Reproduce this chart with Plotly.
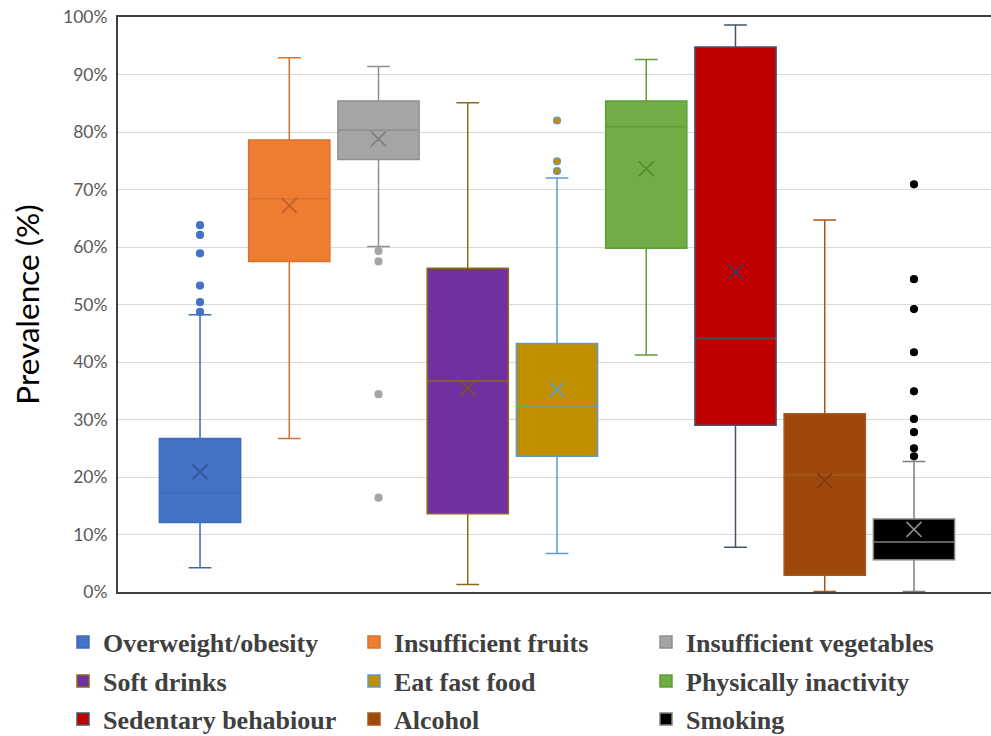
import plotly.graph_objects as go

names = ["Overweight/obesity", "Insufficient fruits", "Insufficient vegetables",
         "Soft drinks", "Eat fast food", "Physically inactivity",
         "Sedentary behabiour", "Alcohol", "Smoking"]
lowerfence = [4.2, 26.7, 60.1, 1.3, 6.7, 41.2, 7.8, 0.1, 0.1]
q1 = [12.1, 57.5, 75.2, 13.6, 23.6, 59.8, 29.0, 2.9, 5.6]
median = [17.3, 68.4, 80.3, 36.7, 32.4, 80.9, 44.1, 20.4, 8.7]
q3 = [26.7, 78.6, 85.4, 56.3, 43.2, 85.4, 94.8, 31.0, 12.7]
upperfence = [48.2, 92.9, 91.4, 85.1, 72.0, 92.6, 98.6, 64.7, 22.7]
means = [20.9, 67.2, 78.8, 35.4, 35.2, 73.6, 55.7, 19.4, 10.9]
outliers = [
    [63.8, 62.1, 58.9, 53.3, 50.4, 48.7],
    [],
    [59.3, 57.5, 34.4, 16.4],
    [],
    [82.0, 74.9, 73.2],
    [],
    [],
    [],
    [70.9, 54.4, 49.2, 41.7, 34.9, 30.1, 27.8, 25.0, 23.6],
]
y_ticks = [0, 10, 20, 30, 40, 50, 60, 70, 80, 90, 100]

fills = ["#4472C4", "#ED7D31", "#A5A5A5", "#7030A0", "#BF8F00",
         "#70AD47", "#C00000", "#9E480E", "#000000"]
lines = ["#3B6AC0", "#D9722C", "#8F8F8F", "#8C6A14", "#5B9BD5",
         "#5F9C3A", "#44546A", "#A9561C", "#7F7F7F"]
mean_cols = ["#2F5597", "#C0602A", "#7F7F7F", "#7A5A10", "#5B9BD5",
             "#4E8A30", "#2F3F6A", "#7A3A10", "#8C8C8C"]
out_fill = ["#4472C4", "#ED7D31", "#A5A5A5", "#7030A0", "#BF8F00",
            "#70AD47", "#C00000", "#9E480E", "#000000"]
out_line = ["#4472C4", "#ED7D31", "#A5A5A5", "#7030A0", "#5B9BD5",
            "#70AD47", "#C00000", "#9E480E", "#000000"]

fig = go.Figure()
for i, n in enumerate(names):
    pos = i + 1
    leg_id = "legend" if i == 0 else f"legend{i + 1}"
    fig.add_trace(go.Box(
        x=[pos], q1=[q1[i]], median=[median[i]], q3=[q3[i]],
        lowerfence=[lowerfence[i]], upperfence=[upperfence[i]],
        name=n, boxpoints=False, width=0.91, whiskerwidth=0.28,
        fillcolor=fills[i], line=dict(color=lines[i], width=1.5),
        legend=leg_id, hoverinfo="skip",
    ))
    fig.add_trace(go.Scatter(
        x=[pos], y=[means[i]], mode="markers", showlegend=False,
        marker=dict(symbol="x-thin-open", size=15, color=mean_cols[i],
                    line=dict(color=mean_cols[i], width=1.6)),
        hoverinfo="skip",
    ))
    if outliers[i]:
        fig.add_trace(go.Scatter(
            x=[pos] * len(outliers[i]), y=outliers[i], mode="markers",
            showlegend=False,
            marker=dict(symbol="circle", size=7, color=out_fill[i],
                        line=dict(color=out_line[i], width=1.2)),
            hoverinfo="skip",
        ))

legend_font = dict(family="Liberation Serif", size=26, color="#404040",
                   weight="bold")
col_x = [63, 354, 646]
row_y = [642, 681, 719]
legends = {}
for i in range(9):
    leg_id = "legend" if i == 0 else f"legend{i + 1}"
    legends[leg_id] = dict(
        orientation="h", xref="container", yref="container",
        x=col_x[i % 3] / 991, y=(736 - row_y[i // 3]) / 736,
        xanchor="left", yanchor="middle", font=legend_font,
        bgcolor="rgba(0,0,0,0)", itemclick=False, itemdoubleclick=False)

fig.update_layout(
    width=991, height=736,
    margin=dict(l=118, r=0, t=17, b=144),
    paper_bgcolor="white", plot_bgcolor="white",
    showlegend=True,
    xaxis=dict(range=[0.081, 9.863], showticklabels=False, ticks="",
               showgrid=False, zeroline=False, showline=True, mirror=True,
               linecolor="#404040", linewidth=2),
    yaxis=dict(range=[0, 100], tickvals=y_ticks,
               ticktext=[f"{v}%" for v in y_ticks],
               tickfont=dict(family="Lato", size=17.5, color="#595959"),
               showgrid=True, gridcolor="#D9D9D9", gridwidth=1.3,
               zeroline=False, showline=True, linecolor="#404040", linewidth=2,
               ticks="", ticklabelstandoff=5,
               title=dict(text="Prevalence (%)", standoff=14,
                          font=dict(family="Lato", size=31.5, color="#000000"))),
    font=dict(family="Lato"),
    **legends,
)

fig.write_html(
    "out.html",
    config={"displayModeBar": False},
    post_script="document.body.style.margin='0px';"
                "document.body.style.overflow='hidden';",
)
